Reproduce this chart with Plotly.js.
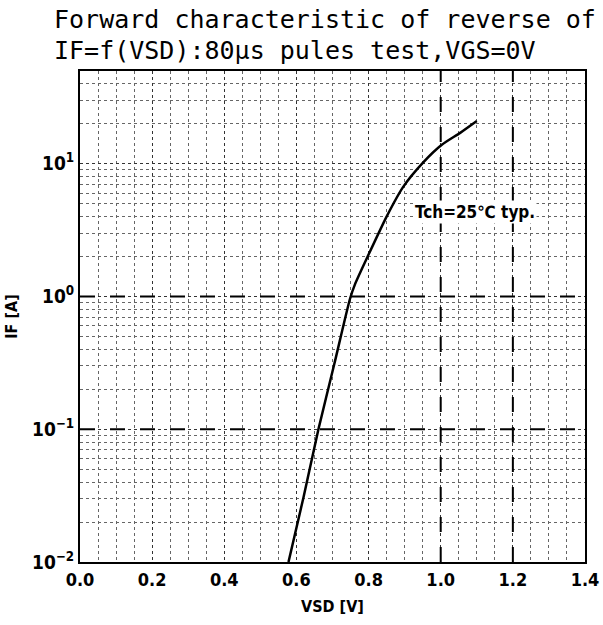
<!DOCTYPE html>
<html>
<head>
<meta charset="utf-8">
<script src="https://cdn.plot.ly/plotly-3.0.1.min.js"></script>
<style>
  html, body { margin: 0; padding: 0; background: #fff; }
  #chart { width: 603px; height: 625px; }
</style>
</head>
<body>
<div id="chart"></div>
<script>
// Data (Tch = 25 °C typ.)
const vsd = [0.578, 0.62, 0.661, 0.705, 0.748, 0.762, 0.80, 0.85, 0.896, 0.951, 1.003, 1.054, 1.10];
const ifA = [0.01, 0.031, 0.1, 0.31, 0.95, 1.23, 2.07, 4.0, 6.7, 10.2, 13.9, 17.1, 21];

// Axis ranges / ticks
const xRange = [0, 1.4];
const xTickStep = 0.2;
const yRangeA = [0.01, 50];
const yTickVals = [0.01, 0.1, 1, 10];
const yTickText = ["10<sup>−2</sup>", "10<sup>−1</sup>", "10<sup>0</sup>", "10<sup>1</sup>"];

// Emphasised (heavy dashed) reference grid lines of the printed chart
const heavyX = [1.0, 1.2];
const heavyY = [0.1, 1];

const titleLines = ["Forward characteristic of reverse of (", "IF=f(VSD):80μs pules test,VGS=0V"];
const noteText = "Tch=25℃ typ.";
const notePos = {x: 1.095, y: 4.3};

const boldFont = "DejaVu Sans Condensed, DejaVu Sans, sans-serif";
const monoFont = "DejaVu Sans Mono, monospace";

const shapes = [];
heavyX.forEach(v => shapes.push({type: "line", xref: "x", yref: "paper", x0: v, x1: v, y0: 0, y1: 1,
  line: {color: "#000", width: 2, dash: "longdash"}}));
heavyY.forEach(v => shapes.push({type: "line", xref: "paper", yref: "y", x0: 0, x1: 1, y0: v, y1: v,
  line: {color: "#000", width: 2, dash: "longdash"}}));

const trace = {
  x: vsd, y: ifA, type: "scatter", mode: "lines",
  line: {color: "#000", width: 2.5, shape: "spline", smoothing: 0.6},
  hoverinfo: "skip", showlegend: false
};

const layout = {
  width: 603, height: 625,
  margin: {l: 80, r: 18, t: 71, b: 63},
  paper_bgcolor: "#fff", plot_bgcolor: "#fff",
  xaxis: {
    range: xRange,
    tickmode: "linear", tick0: 0, dtick: xTickStep, tickformat: ".1f",
    ticks: "", showline: true, mirror: true, linecolor: "#000", linewidth: 2,
    showgrid: true, gridcolor: "#333", griddash: "dot", gridwidth: 1,
    minor: {dtick: 0.05, showgrid: true, gridcolor: "#666", griddash: "dot", gridwidth: 1},
    tickfont: {family: boldFont, size: 18, color: "#000", weight: "bold"},
    zeroline: false,
    title: {text: "VSD [V]", standoff: 12, font: {family: boldFont, size: 16, color: "#000", weight: "bold"}}
  },
  yaxis: {
    type: "log", range: [Math.log10(yRangeA[0]), Math.log10(yRangeA[1])],
    tickmode: "array", tickvals: yTickVals, ticktext: yTickText,
    ticks: "", showline: true, mirror: true, linecolor: "#000", linewidth: 2,
    showgrid: true, gridcolor: "#333", griddash: "dot", gridwidth: 1,
    minor: {tickmode: "linear", tick0: 0, dtick: "D1", showgrid: true, gridcolor: "#666", griddash: "dot", gridwidth: 1},
    tickfont: {family: boldFont, size: 19, color: "#000", weight: "bold"},
    zeroline: false,
    title: {text: "IF [A]", standoff: 10, font: {family: boldFont, size: 16, color: "#000", weight: "bold"}}
  },
  shapes: shapes,
  annotations: [
    {xref: "paper", yref: "paper", x: -0.0554, y: 1.104, xanchor: "left", yanchor: "middle",
     text: titleLines[0], showarrow: false, font: {family: monoFont, size: 25, color: "#000"}},
    {xref: "paper", yref: "paper", x: -0.0554, y: 1.041, xanchor: "left", yanchor: "middle",
     text: titleLines[1], showarrow: false, font: {family: monoFont, size: 25, color: "#000"}},
    {x: notePos.x, y: Math.log10(notePos.y), xref: "x", yref: "y",
     text: noteText, showarrow: false, bgcolor: "#fff",
     font: {family: boldFont, size: 17, color: "#000", weight: "bold"}}
  ]
};

Plotly.newPlot("chart", [trace], layout, {displayModeBar: false, staticPlot: true});
</script>
</body>
</html>
